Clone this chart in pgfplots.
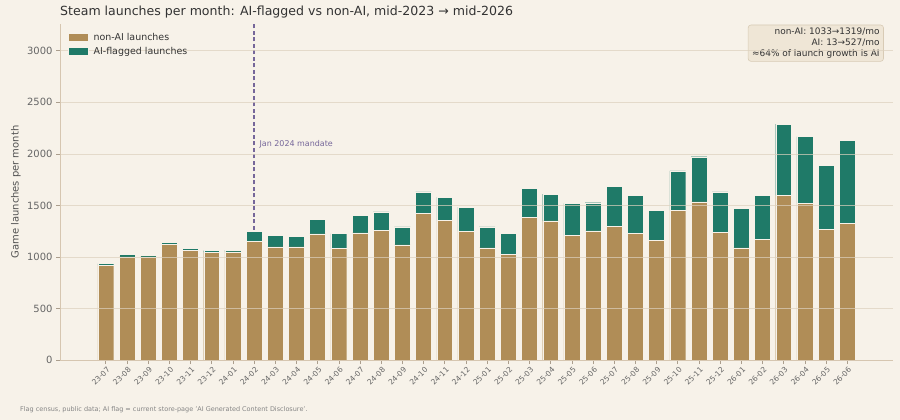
\documentclass[border=0pt]{standalone}
\usepackage{pgfplots}
\pgfplotsset{compat=1.18}
\usepackage{pgfplotstable}
\usepackage{fontspec}
\setmainfont{DejaVu Sans}
\definecolor{bg}{HTML}{F7F2E9}
\definecolor{tan}{HTML}{B08D57}
\definecolor{teal}{HTML}{1F7A68}
\definecolor{spine}{HTML}{D6C6B0}
\definecolor{gridc}{HTML}{DDD1BE}
\definecolor{mand}{HTML}{76679A}
\definecolor{txt}{HTML}{333333}
\definecolor{tick}{HTML}{666666}
\definecolor{boxfill}{HTML}{EFE6D6}
\definecolor{boxdraw}{HTML}{D8CBB5}

\pgfplotstableread{
x nonai ai
0 920 15
1 1000 23
2 1000 16
3 1123 19
4 1065 16
5 1045 17
6 1049 16
7 1152 97
8 1097 113
9 1097 103
10 1223 142
11 1081 145
12 1233 171
13 1259 177
14 1117 174
15 1426 204
16 1355 226
17 1249 235
18 1088 203
19 1023 203
20 1384 278
21 1349 261
22 1210 310
23 1252 274
24 1295 391
25 1226 371
26 1158 291
27 1452 384
28 1533 439
29 1236 394
30 1088 380
31 1168 432
32 1597 691
33 1523 645
34 1265 623
35 1329 801
}\data

\begin{document}
\begin{tikzpicture}
\path[use as bounding box, fill=bg] (0bp,0bp) rectangle (900bp,420bp);
\node[anchor=west, font=\fontsize{12.6}{15}\selectfont, text=txt, inner sep=0pt] at (60bp,408bp)
  {Steam launches per month: AI-flagged vs non-AI, mid-2023 → mid-2026};
\node[rotate=90, font=\fontsize{10}{12}\selectfont, text=txt!85, inner sep=0pt] at (16bp,228bp)
  {Game launches per month};
\begin{axis}[
  at={(60bp,60bp)}, anchor=south west,
  scale only axis, width=833bp, height=336bp,
  xmin=-2.16, xmax=37.16, ymin=0, ymax=3260,
  ybar stacked, bar width=0.75,
  axis x line*=bottom, axis y line*=left,
  axis line style={-, draw=spine, line width=0.8pt},
  axis on top,
  ymajorgrids, grid style={draw=gridc, line width=0.6pt, opacity=0.7},
  xtick={0,...,35},
  xticklabels={23-07,23-08,23-09,23-10,23-11,23-12,24-01,24-02,24-03,24-04,24-05,24-06,24-07,24-08,24-09,24-10,24-11,24-12,25-01,25-02,25-03,25-04,25-05,25-06,25-07,25-08,25-09,25-10,25-11,25-12,26-01,26-02,26-03,26-04,26-05,26-06},
  ytick={0,500,1000,1500,2000,2500,3000},
  tick style={draw=spine!80!black, line width=0.6pt},
  major tick length=4bp,
  tick align=outside,
  xticklabel style={rotate=45, anchor=east, font=\fontsize{7.5}{8}\selectfont, text=tick, inner sep=1bp, xshift=0bp, yshift=-5bp},
  yticklabel style={font=\fontsize{10}{12}\selectfont, text=tick},
  /pgf/number format/assume math mode=true,
  /pgf/number format/1000 sep={},
  legend cell align=left,
  legend style={at={(axis description cs:0.006,0.985)}, anchor=north west, draw=none, fill=none,
    font=\fontsize{9.5}{11}\selectfont, text=txt, row sep=1bp,
    nodes={inner xsep=5bp}},
  legend image code/.code={\fill[#1] (0bp,-4bp) rectangle (20bp,4bp);},
]
\addplot[fill=tan, draw=bg, line width=0.4pt] table[x=x, y=nonai] {\data};
\addplot[fill=teal, draw=bg, line width=0.4pt] table[x=x, y=ai] {\data};
\legend{non-AI launches, AI-flagged launches}
\draw[mand, line width=1.4pt, dash pattern=on 4bp off 2.5bp] (axis cs:7,0) -- (axis cs:7,3260);
\node[anchor=west, text=mand, font=\fontsize{8}{9}\selectfont, inner sep=0pt] at (axis cs:7.25,2090) {Jan 2024 mandate};
\node[anchor=north east, align=right, fill=boxfill, draw=boxdraw, rounded corners=3bp,
  font=\fontsize{9}{11}\selectfont, text=txt, inner xsep=4bp, inner ysep=3bp, line width=0.6pt]
  at (axis description cs:0.989,0.998)
  {non-AI: 1033→1319/mo\\AI: 13→527/mo\\≈64\% of launch growth is AI};
\end{axis}
\node[anchor=west, text=tick!80, font=\fontsize{6.5}{7}\selectfont, inner sep=0pt] at (20bp,10bp)
  {Flag census, public data; AI flag = current store-page 'AI Generated Content Disclosure'.};
\end{tikzpicture}
\end{document}
